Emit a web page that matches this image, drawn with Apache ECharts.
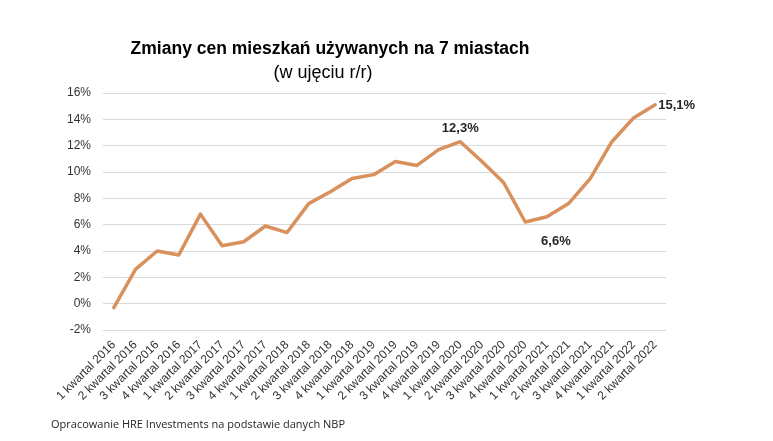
<!DOCTYPE html>
<html>
<head>
<meta charset="utf-8">
<script src="https://cdn.jsdelivr.net/npm/echarts@6/dist/echarts.min.js"></script>
<style>
html,body{margin:0;padding:0;background:#fff;}
#chart{width:773px;height:441px;}
</style>
</head>
<body>
<div id="chart"></div>
<script>
const categories = [
  "1 kwartal 2016","2 kwartal 2016","3 kwartal 2016","4 kwartal 2016",
  "1 kwartal 2017","2 kwartal 2017","3 kwartal 2017","4 kwartal 2017",
  "1 kwartal 2018","2 kwartal 2018","3 kwartal 2018","4 kwartal 2018",
  "1 kwartal 2019","2 kwartal 2019","3 kwartal 2019","4 kwartal 2019",
  "1 kwartal 2020","2 kwartal 2020","3 kwartal 2020","4 kwartal 2020",
  "1 kwartal 2021","2 kwartal 2021","3 kwartal 2021","4 kwartal 2021",
  "1 kwartal 2022","2 kwartal 2022"
];
const values = [
  -0.3, 2.6, 4.0, 3.7, 6.8, 4.4, 4.7, 5.9, 5.4, 7.6, 8.5, 9.5, 9.8,
  10.8, 10.5, 11.7, 12.3, 10.8, 9.2, 6.2, 6.6, 7.6, 9.5, 12.3, 14.1, 15.1
];
const labelledPoints = [16, 20, 25];
const title = "Zmiany cen mieszkań używanych na 7 miastach";
const subtitle = "(w ujęciu r/r)";
const footnote = "Opracowanie HRE Investments na podstawie danych NBP";

const fmt = v => v.toFixed(1).replace('.', ',') + '%';
const labelStyles = {
  16: {position: 'top', distance: 7},
  20: {position: 'bottom', distance: 18, offset: [9, 0]},
  25: {position: 'right', distance: 3, offset: [0, 1]}
};
const seriesData = values.map((v, i) => {
  if (labelledPoints.includes(i)) {
    return {
      value: v,
      label: Object.assign({
        show: true,
        formatter: fmt(v),
        fontFamily: 'Liberation Sans, Arial, sans-serif',
        fontWeight: 'bold',
        fontSize: 13,
        color: '#262626'
      }, labelStyles[i])
    };
  }
  return v;
});

const chart = echarts.init(document.getElementById('chart'), null, {renderer: 'canvas'});
chart.setOption({
  backgroundColor: '#ffffff',
  animation: false,
  title: [
    {
      text: title,
      left: 325, top: 35, textAlign: 'center',
      textStyle: {fontFamily: 'Liberation Sans, Arial, sans-serif', fontWeight: 'bold', fontSize: 17.5, color: '#000'}
    },
    {
      text: subtitle,
      left: 318, top: 59, textAlign: 'center',
      textStyle: {fontFamily: 'Liberation Sans, Arial, sans-serif', fontWeight: 'normal', fontSize: 18, color: '#000'}
    },
    {
      text: footnote,
      left: 46, top: 414,
      textStyle: {fontFamily: 'Open Sans, sans-serif', fontWeight: 'normal', fontSize: 11, color: '#262626'}
    }
  ],
  grid: {left: 103, right: 107, top: 93, bottom: 111, containLabel: false},
  xAxis: {
    type: 'category',
    data: categories,
    boundaryGap: true,
    axisLine: {show: false},
    axisTick: {show: false},
    axisLabel: {
      rotate: 45, interval: 0, margin: 13,
      fontFamily: 'Liberation Sans, Arial, sans-serif', fontSize: 12, color: '#333333'
    }
  },
  yAxis: {
    type: 'value',
    min: -2, max: 16, interval: 2,
    axisLine: {show: false},
    axisTick: {show: false},
    axisLabel: {
      formatter: v => v + '%', margin: 12,
      fontFamily: 'Liberation Sans, Arial, sans-serif', fontSize: 12, color: '#333333'
    },
    splitLine: {lineStyle: {color: '#d9d9d9', width: 1}}
  },
  series: [{
    type: 'line',
    data: seriesData,
    showSymbol: true,
    symbol: 'circle',
    symbolSize: 0.1,
    lineStyle: {color: '#D8905C', width: 3.5, cap: 'round', join: 'round'},
    itemStyle: {color: '#D8905C'}
  }]
});
</script>
</body>
</html>
